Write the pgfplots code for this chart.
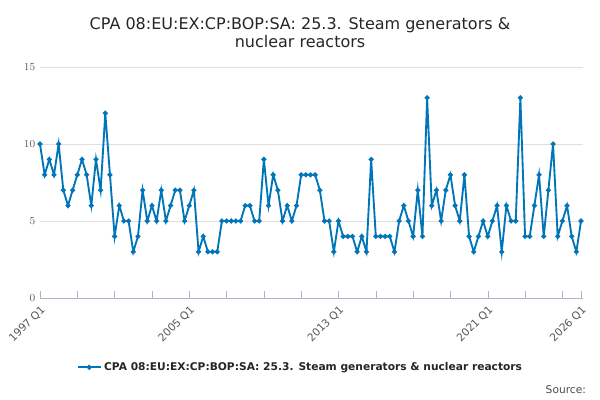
\documentclass[border=0pt]{standalone}
\usepackage{pgfplots}
\pgfplotsset{compat=1.18}
\usepackage{fontspec}
\setmainfont{DejaVu Sans}
\usepackage{pgfplotstable}
\pgfplotstableread{
y
10
8
9
8
10
7
6
7
8
9
8
6
9
7
12
8
4
6
5
5
3
4
7
5
6
5
7
5
6
7
7
5
6
7
3
4
3
3
3
5
5
5
5
5
6
6
5
5
9
6
8
7
5
6
5
6
8
8
8
8
7
5
5
3
5
4
4
4
3
4
3
9
4
4
4
4
3
5
6
5
4
7
4
13
6
7
5
7
8
6
5
8
4
3
4
5
4
5
6
3
6
5
5
13
4
4
6
8
4
7
10
4
5
6
4
3
5
}\data
\definecolor{ons}{HTML}{0075B8}
\begin{document}
\begin{tikzpicture}
\useasboundingbox (-30pt,-76.5pt) rectangle (420pt,223.5pt);
\begin{axis}[
  at={(0,0)}, anchor=origin,
  x=3.498pt, y=11.55pt,
  xmin=0, xmax=116.5, ymin=0, ymax=15,
  axis x line*=bottom, axis y line*=left,
  y axis line style={draw=none},
  x axis line style={draw=blue!20!gray!50},
  ytick={0,5,10,15},
  ytick style={draw=none},
  ymajorgrids, grid style={gray!25},
  yticklabel style={font=\footnotesize,text=gray!70!black},
  xtick={0,8,...,112,116},
  xticklabels={1997 Q1,,,,2005 Q1,,,,2013 Q1,,,,2021 Q1,,,2026 Q1},
  xticklabel style={rotate=45,anchor=north east,font=\footnotesize,text=gray!70!black},
  major tick length=5pt, xtick style={draw=blue!20!gray!50},
  xtick pos=bottom,
  clip=false,
  legend style={at={(0.48,-0.3)},anchor=center,draw=none,font=\footnotesize\bfseries,text=gray!30!black},
]
\addplot[ons, line width=1.4pt, mark=*, mark size=1.1pt] table[x expr=\coordindex, y=y]{\data};
\addlegendentry{CPA 08:EU:EX:CP:BOP:SA: 25.3. Steam generators \& nuclear reactors}
\end{axis}
\node[align=center,font=\large,text=gray!30!black] at (195pt,199pt) {CPA 08:EU:EX:CP:BOP:SA: 25.3. Steam generators \&\\nuclear reactors};
\node[anchor=east,font=\footnotesize,text=gray!60!black] at (413pt,-69pt) {Source:};
\end{tikzpicture}
\end{document}
